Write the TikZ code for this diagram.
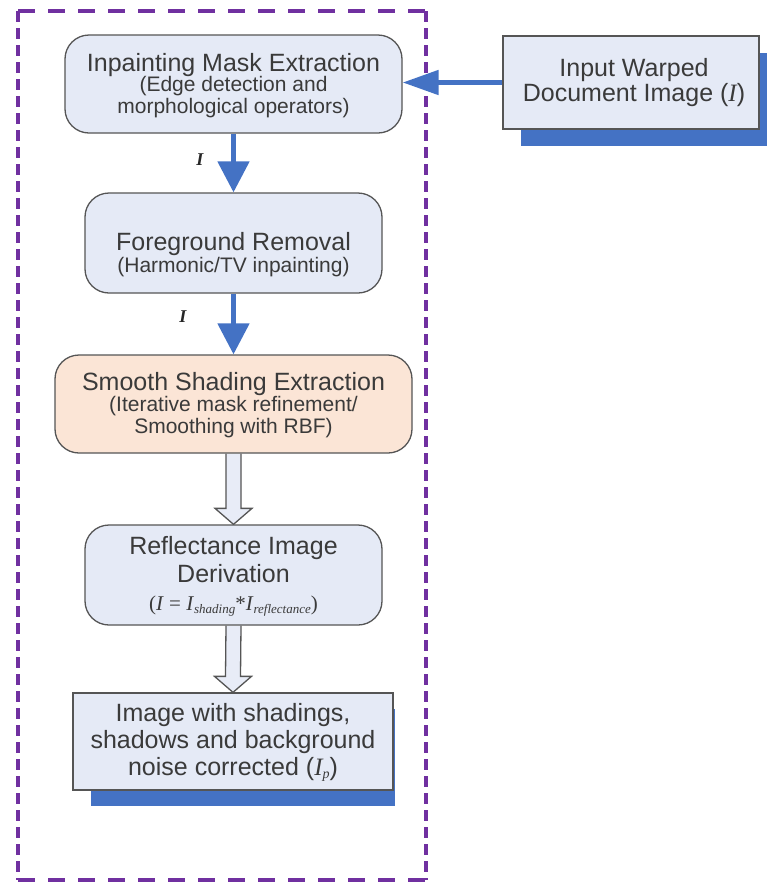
\documentclass[tikz,border=0pt]{standalone}
\usepackage{fontspec}
\setmainfont{Liberation Sans}
\newfontfamily\tnr{Liberation Serif}
\usetikzlibrary{arrows.meta,calc}
\definecolor{boxfill}{HTML}{E5EAF6}
\definecolor{peach}{HTML}{FBE5D6}
\definecolor{hollowfill}{HTML}{E8ECF7}
\definecolor{boxline}{HTML}{555555}
\definecolor{textgray}{HTML}{3A3A3A}
\definecolor{arrowblue}{HTML}{4472C4}
\definecolor{shadowblue}{HTML}{4472C4}
\definecolor{framepurple}{HTML}{7030A0}
\newcommand{\titlefont}{\fontsize{25}{25}\selectfont}
\newcommand{\ivar}{{\tnr\itshape I}}
\pgfdeclarelayer{bg}
\pgfsetlayers{bg,main}
\begin{document}
\begin{tikzpicture}[x=1pt,y=-1pt,
  rbox/.style={draw=boxline, line width=1.3pt, fill=boxfill, rounded corners=24pt, inner sep=0pt},
  sbox/.style={draw=boxline, line width=1.3pt, fill=boxfill, inner sep=0pt},
  txt/.style={text=textgray, align=center, inner sep=0pt, anchor=base},
  subtxt/.style={txt, font=\fontsize{21}{21.3}\selectfont},
  bigtxt/.style={txt, font=\fontsize{25}{#1}\selectfont},
  lab/.style={text=black!85, inner sep=0pt, font=\fontsize{18}{18}\selectfont\tnr\bfseries\itshape},
  barrow/.style={draw=arrowblue, line width=5pt, -{Triangle[length=31pt,width=31pt]}},
  harrow/.style={draw=arrowblue, line width=5pt, -{Triangle[length=36pt,width=24pt]}},
  hollow/.style={draw=boxline, line width=1.3pt, fill=hollowfill, line join=miter},
  frameh/.style={draw=framepurple, line width=4pt, dash pattern=on 17pt off 13pt},
  framev/.style={draw=framepurple, line width=4pt, dash pattern=on 11pt off 6pt},
  shadow/.style={fill=shadowblue}
]
\useasboundingbox (0,0) rectangle (767,884);

% frame
\draw[frameh] (18,11) -- (426,11);
\draw[frameh] (18,880) -- (426,880);
\draw[framev] (18,11) -- (18,880);
\draw[framev] (426,11) -- (426,880);

% boxes
\node[rbox, minimum width=337pt, minimum height=98pt] (b1) at (233.5,84) {};
\node[rbox, minimum width=297pt, minimum height=100pt] (b2) at (233.5,243) {};
\node[rbox, fill=peach, minimum width=357pt, minimum height=98pt] (b3) at (233.5,404) {};
\node[rbox, minimum width=297pt, minimum height=100pt] (b4) at (233.5,575) {};

% shadows of square boxes
\fill[shadow] (521,53) rectangle (767,146);
\fill[shadow] (91,709) rectangle (395,806);
\node[sbox, minimum width=320pt, minimum height=97pt] (b5) at (233,741.5) {};
\node[sbox, minimum width=256pt, minimum height=93pt] (bin) at (631,82.5) {};

% texts (anchored at the baseline of the last line)
\node[subtxt] (t1) at (233.5,113) {{\titlefont Inpainting Mask Extraction}\\[-1pt](Edge detection and\\morphological operators)};
\node[subtxt] (t2) at (233.5,272.7) {{\titlefont Foreground Removal}\\[1.4pt](Harmonic/TV inpainting)};
\node[subtxt] (t3) at (233.5,433) {{\titlefont Smooth Shading Extraction}\\(Iterative mask refinement/\\Smoothing with RBF)};
\node[bigtxt=28] (t4) at (233.5,610) {Reflectance Image\\Derivation\\{\tnr\fontsize{21}{21}\selectfont(\textit{I} = \textit{I}\raisebox{-3pt}{\fontsize{13}{13}\selectfont\textit{shading}}*\textit{I}\raisebox{-3pt}{\fontsize{13}{13}\selectfont\textit{reflectance}})}};
\node[bigtxt=26.7] (t5) at (233,775) {Image with shadings,\\shadows and background\\noise corrected ({\tnr\itshape I\raisebox{-3pt}{\fontsize{14}{14}\selectfont p}})};
\node[bigtxt=25] (tin) at (634,101.7) {Input Warped\\Document Image (\ivar)};

% labels
\node[lab] (l1) at (200,160) {I};
\node[lab] (l2) at (183,317) {I};

% connectors
\draw[harrow] (bin.west) -- (bin.west -| b1.east);
\draw[barrow] (b1.south) -- (b2.north);
\draw[barrow] (b2.south) -- (b3.north);
\begin{pgfonlayer}{bg}
\draw[hollow] ($(b3.south)+(-7.5,0)$) -- ($(b4.north)+(-7.5,-16)$) -- ($(b4.north)+(-18.5,-16)$) -- (b4.north) -- ($(b4.north)+(18.5,-16)$) -- ($(b4.north)+(7.5,-16)$) -- ($(b3.south)+(7.5,0)$);
\draw[hollow] ($(b4.south)+(-7.5,0)$) -- ($(b5.north)+(-7.5,-16)$) -- ($(b5.north)+(-18.5,-16)$) -- (b5.north) -- ($(b5.north)+(18.5,-16)$) -- ($(b5.north)+(7.5,-16)$) -- ($(b4.south)+(7.5,0)$);
\end{pgfonlayer}
\end{tikzpicture}
\end{document}
